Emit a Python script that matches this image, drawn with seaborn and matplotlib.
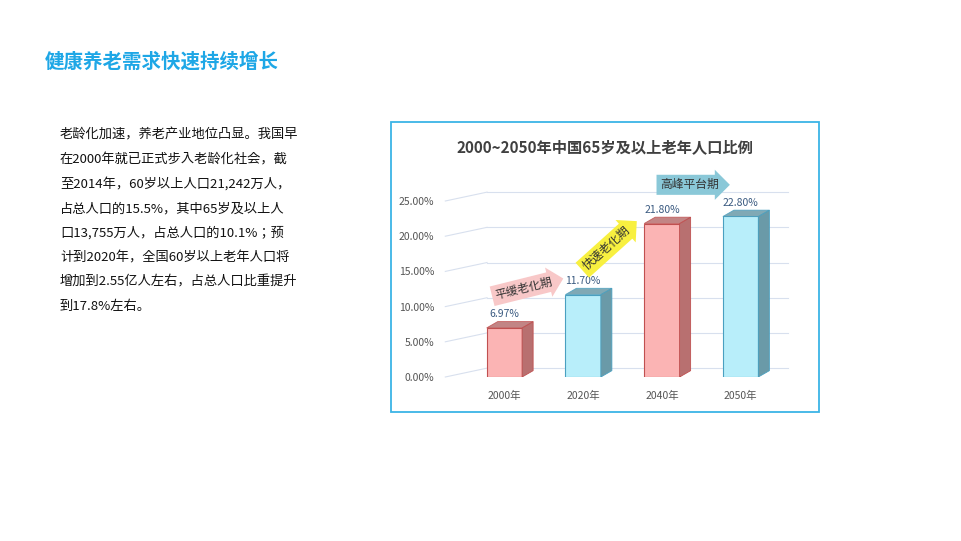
import numpy as np
import matplotlib.pyplot as plt
import seaborn as sns
import pandas as pd
from matplotlib.patches import Polygon, Rectangle

plt.rcParams['font.family'] = ['Noto Sans CJK SC', 'Noto Sans CJK JP', 'Noto Sans CJK TC', 'DejaVu Sans']

years = ['2000年', '2020年', '2040年', '2050年']
ratios = [6.97, 11.70, 21.80, 22.80]
bar_colors = ['#fbb4b4', '#b8eefa', '#fbb4b4', '#b8eefa']
side_colors = ['#b87070', '#6a9aa8', '#b87070', '#6a9aa8']
edge_colors = ['#c05050', '#4aa0c0', '#c05050', '#4aa0c0']
yticks = [0, 5, 10, 15, 20, 25]

paragraph = ['老龄化加速，养老产业地位凸显。我国早',
             '在2000年就已正式步入老龄化社会，截',
             '至2014年，60岁以上人口21,242万人，',
             '占总人口的15.5%，其中65岁及以上人',
             '口13,755万人，占总人口的10.1%；预',
             '计到2020年，全国60岁以上老年人口将',
             '增加到2.55亿人左右，占总人口比重提升',
             '到17.8%左右。']

fig = plt.figure(figsize=(9.61, 5.41), dpi=100)
fig.text(45 / 961, 1 - 62 / 541, '健康养老需求快速持续增长', fontsize=14, fontweight='bold',
         color='#1ea7e6', va='center')
for i, line in enumerate(paragraph):
    fig.text(60 / 961, 1 - (135 + i * 24.5) / 541, line, fontsize=9.5, color='#111111', va='center')

# chart frame
fig.patches.append(Rectangle((391 / 961, 1 - 412 / 541), 428 / 961, 290 / 541, transform=fig.transFigure,
                             fill=False, edgecolor='#3cb4e6', linewidth=1.3))
fig.text(605 / 961, 1 - 147 / 541, '2000~2050年中国65岁及以上老年人口比例', fontsize=11, fontweight='bold',
         color='#404040', ha='center', va='center')

ax = fig.add_axes([465 / 961, 1 - 377 / 541, 315 / 961, 176 / 541])
df = pd.DataFrame({'year': years, 'ratio': ratios})
sns.barplot(data=df, x='year', y='ratio', hue='year', palette=bar_colors, legend=False, width=0.45,
            saturation=1, ax=ax)
ax.set_ylim(0, 25)
ax.set_xlim(-0.5, 3.5)
ax.set_yticks(yticks)
ax.set_yticklabels([f'{t:.2f}%' for t in yticks], fontsize=7.5, color='#555555')
ax.tick_params(axis='x', labelsize=7.5, colors='#555555', length=0, pad=10)
ax.tick_params(axis='y', length=0, pad=22)
ax.set_xlabel('')
ax.set_ylabel('')
for s in ax.spines.values():
    s.set_visible(False)
dx, dy = 0.14, 0.9
for t in yticks:
    ax.plot([-0.75, -0.5 + dx * 2], [t, t + dy * 1.4], color='#d8e0ee', lw=0.8, clip_on=False, zorder=0)
    ax.plot([-0.5 + dx * 2, 3.6], [t + dy * 1.4, t + dy * 1.4], color='#d8e0ee', lw=0.8, clip_on=False, zorder=0)

for p, sc, ec, v in zip(ax.patches, side_colors, edge_colors, ratios):
    p.set_edgecolor(ec)
    p.set_linewidth(0.8)
    x0, w, h = p.get_x(), p.get_width(), p.get_height()
    ax.add_patch(Polygon([(x0 + w, 0), (x0 + w + dx, dy), (x0 + w + dx, h + dy), (x0 + w, h)],
                         closed=True, facecolor=sc, edgecolor=ec, lw=0.6))
    ax.add_patch(Polygon([(x0, h), (x0 + dx, h + dy), (x0 + w + dx, h + dy), (x0 + w, h)],
                         closed=True, facecolor=sc, edgecolor=ec, lw=0.6, alpha=0.85))
    ax.text(x0 + w / 2, h + dy + 0.3, f'{v:.2f}%', ha='center', va='bottom', fontsize=7.5, color='#3a5a80')

ax.text(0.25, 12.6, '平缓老化期', rotation=14, fontsize=8.5, color='#333333', ha='center', va='center',
        bbox=dict(boxstyle='rarrow,pad=0.3', facecolor='#f8c8c8', edgecolor='none'))
ax.text(1.3, 18.3, '快速老化期', rotation=42, fontsize=8.5, color='#333333', ha='center', va='center',
        bbox=dict(boxstyle='rarrow,pad=0.3', facecolor='#f8f040', edgecolor='none'))
ax.text(2.35, 27.3, '高峰平台期', fontsize=8.5, color='#333333', ha='center', va='center', clip_on=False,
        bbox=dict(boxstyle='rarrow,pad=0.3', facecolor='#8ac8d8', edgecolor='none'))

fig.savefig('out.png', dpi=100)
